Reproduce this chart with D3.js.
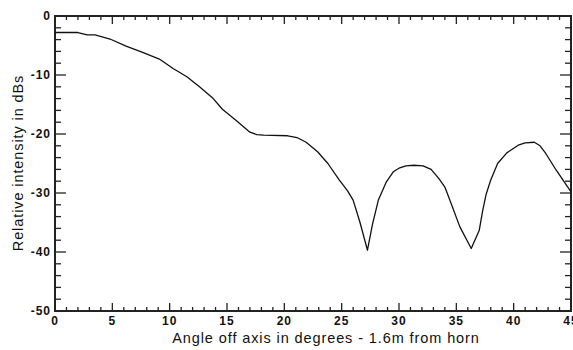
<!DOCTYPE html>
<html>
<head>
<meta charset="utf-8">
<script src="https://cdn.jsdelivr.net/npm/d3@7"></script>
<style>
  body { margin: 0; background: #fff; }
  svg { display: block; font-family: "Liberation Sans", Arial, sans-serif; }
</style>
</head>
<body>
<svg></svg>
<script>
// angle off axis (deg) and relative intensity (dB)
var angles = [0, 2.0, 2.8, 3.5, 4.8, 6.2, 7.7, 9.1, 10.3, 11.5, 12.6, 13.8, 14.6, 15.8, 17.0, 17.6, 18.2,
  20.3, 21.1, 21.9, 22.9, 23.8, 24.8, 25.5, 26.0, 26.6, 27.25, 27.7, 28.2, 28.9, 29.5, 30.0, 30.6, 31.3,
  32.1, 32.8, 33.5, 34.0, 34.4, 35.3, 36.3, 37.0, 37.3, 37.6, 38.0, 38.6, 39.4, 40.4, 41.0, 41.8,
  42.3, 42.8, 43.7, 45];
var dbs = [-2.8, -2.8, -3.2, -3.2, -3.9, -5.1, -6.2, -7.3, -8.9, -10.3, -12.0, -14.0, -15.8, -17.7, -19.7, -20.1, -20.2,
  -20.3, -20.6, -21.4, -23.0, -25.0, -27.8, -29.6, -31.2, -35.0, -39.7, -35.2, -31.2, -28.1, -26.4, -25.8, -25.4, -25.3,
  -25.4, -26.0, -27.6, -29.0, -31.0, -35.7, -39.4, -36.3, -33.0, -30.2, -27.8, -25.0, -23.2, -21.9, -21.5, -21.4,
  -22.0, -23.3, -26.1, -29.8];
var xTicks = [0, 5, 10, 15, 20, 25, 30, 35, 40, 45];
var yTicks = [0, -10, -20, -30, -40, -50];

var W = 573, H = 350;
var pLeft = 55, pRight = 571, pTop = 16, pBottom = 311;

var svg = d3.select("svg")
  .attr("width", W)
  .attr("height", H);

var x = d3.scaleLinear().domain([0, 45]).range([pLeft, pRight]);
var y = d3.scaleLinear().domain([0, -50]).range([pTop, pBottom]);

var minorX = d3.range(0, 46, 1);
var minorY = d3.range(0, -51, -2);

// ticks point inward on all four sides
var ax = svg.append("g").attr("stroke", "#222").attr("stroke-width", 1.3);
minorX.forEach(function (v) {
  var big = v % 5 === 0;
  ax.append("line").attr("x1", x(v)).attr("x2", x(v))
    .attr("y1", pBottom).attr("y2", pBottom - (big ? 8 : 4));
  ax.append("line").attr("x1", x(v)).attr("x2", x(v))
    .attr("y1", pTop).attr("y2", pTop + (big ? 8 : 4));
});
minorY.forEach(function (v) {
  var big = v % 10 === 0;
  ax.append("line").attr("y1", y(v)).attr("y2", y(v))
    .attr("x1", pLeft).attr("x2", pLeft + (big ? 11 : 6));
  ax.append("line").attr("y1", y(v)).attr("y2", y(v))
    .attr("x1", pRight).attr("x2", pRight - (big ? 11 : 6));
});

svg.append("rect")
  .attr("x", pLeft).attr("y", pTop)
  .attr("width", pRight - pLeft).attr("height", pBottom - pTop)
  .attr("fill", "none").attr("stroke", "#222").attr("stroke-width", 2);

svg.append("g").selectAll("text")
  .data(xTicks)
  .join("text")
  .attr("x", function (d) { return x(d); })
  .attr("y", 325)
  .attr("text-anchor", "middle")
  .attr("font-size", 12)
  .attr("font-weight", "bold")
  .attr("letter-spacing", 1)
  .attr("fill", "#111")
  .text(function (d) { return d; });

svg.append("g").selectAll("text")
  .data(yTicks)
  .join("text")
  .attr("x", 51)
  .attr("y", function (d) { return y(d) + 4; })
  .attr("text-anchor", "end")
  .attr("font-size", 12)
  .attr("font-weight", "bold")
  .attr("letter-spacing", 1)
  .attr("fill", "#111")
  .text(function (d) { return d === 0 ? "0" : "-" + Math.abs(d); });

var line = d3.line()
  .x(function (d, i) { return x(angles[i]); })
  .y(function (d) { return y(d); });

svg.append("path")
  .datum(dbs)
  .attr("d", line)
  .attr("fill", "none")
  .attr("stroke", "#111")
  .attr("stroke-width", 1.3)
  .attr("stroke-linejoin", "round");

svg.append("text")
  .attr("x", 326).attr("y", 343)
  .attr("text-anchor", "middle")
  .attr("font-size", 14.5)
  .attr("letter-spacing", 0.9)
  .attr("fill", "#111")
  .text("Angle off axis in degrees - 1.6m from horn");

svg.append("text")
  .attr("transform", "translate(23,163) rotate(-90)")
  .attr("text-anchor", "middle")
  .attr("font-size", 14.5)
  .attr("letter-spacing", 0.9)
  .attr("fill", "#111")
  .text("Relative intensity in dBs");
</script>
</body>
</html>
